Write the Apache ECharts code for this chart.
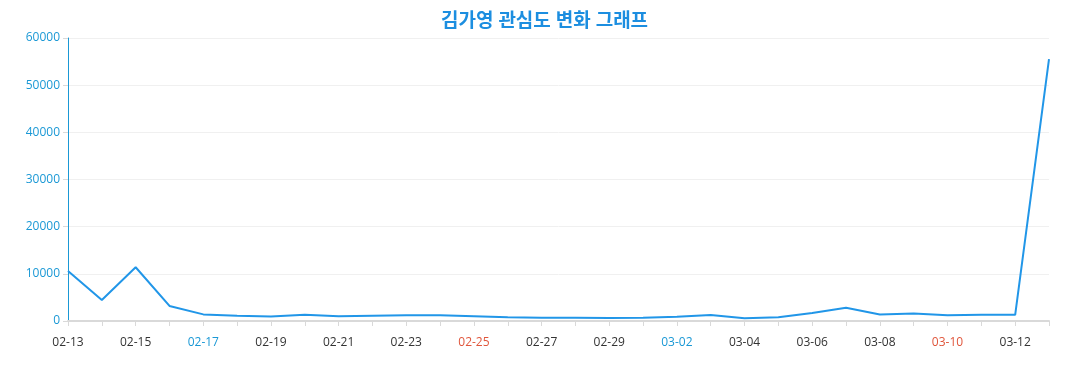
<!DOCTYPE html>
<html><head><meta charset="utf-8">
<script src="https://cdn.jsdelivr.net/npm/echarts@6/dist/echarts.min.js"></script>
<style>html,body{margin:0;padding:0;background:#fff}#c{width:1077px;height:390px}</style>
</head><body><div id="c"></div>
<script>
const titleText = '김가영 관심도 변화 그래프';
const dates = ['02-13','02-14','02-15','02-16','02-17','02-18','02-19','02-20','02-21','02-22','02-23','02-24','02-25','02-26','02-27','02-28','02-29','03-01','03-02','03-03','03-04','03-05','03-06','03-07','03-08','03-09','03-10','03-11','03-12','03-13'];
const values = [10600,4450,11400,3200,1400,1100,950,1300,1000,1100,1200,1200,1000,800,700,700,650,700,900,1250,570,780,1700,2800,1400,1600,1200,1300,1300,55500];
const saturdays = ['02-17','02-24','03-02','03-09'];
const sundays = ['02-18','02-25','03-03','03-10'];
const FONT = "'Open Sans', 'Noto Sans CJK KR', sans-serif";

const chart = echarts.init(document.getElementById('c'));
chart.setOption({
  animation: false,
  title: { text: titleText, left: 436, top: 7,
    textStyle: { color: '#1c8ee0', fontSize: 19, fontWeight: 'bold', fontFamily: FONT } },
  grid: { left: 68, right: 28, top: 38, bottom: 69 },
  xAxis: {
    type: 'category', data: dates, boundaryGap: false,
    axisLine: { lineStyle: { color: '#d9d9d9', width: 2 } },
    axisTick: { show: true, interval: 0, lineStyle: { color: '#d9d9d9' } },
    axisLabel: { interval: 1, margin: 16, fontSize: 12, fontFamily: FONT,
      color: function (v) { return saturdays.includes(v) ? '#1a98d5' : (sundays.includes(v) ? '#e0553b' : '#333'); } }
  },
  yAxis: {
    type: 'value', min: 0, max: 60000, interval: 10000,
    axisLine: { show: true, lineStyle: { color: '#1a98d5' } },
    axisTick: { show: true, lineStyle: { color: '#d9d9d9' } },
    axisLabel: { color: '#1a98d5', fontSize: 12, fontFamily: FONT, formatter: function (v) { return String(v); } },
    splitLine: { lineStyle: { color: '#f0f0f0' } }
  },
  series: [{ type: 'line', data: values, showSymbol: false, symbol: 'none',
    lineStyle: { color: '#2196e8', width: 2 } }]
});
</script></body></html>
